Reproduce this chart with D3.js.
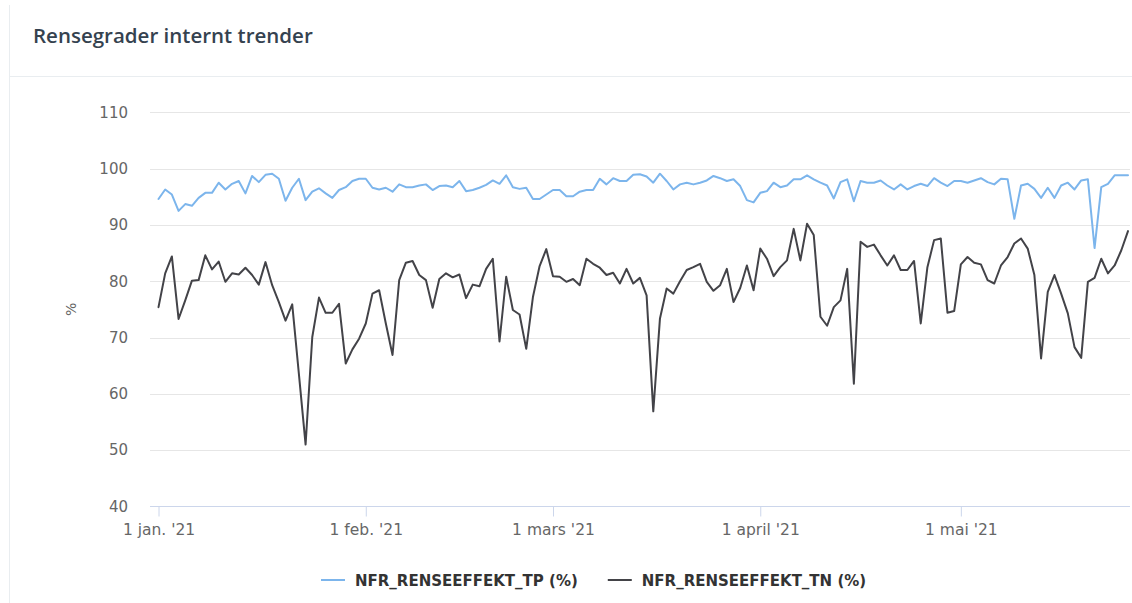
<!DOCTYPE html>
<meta charset="utf-8">
<script src="https://d3js.org/d3.v7.min.js"></script>
<style>
  body { margin: 0; background: #fff; }
  text { font-family: "DejaVu Sans", sans-serif; }
</style>
<div id="chart"></div>
<script>
  // daily values, 1 jan. 2021 - 26 mai 2021
  var startDate = "2021-01-01";

  var tpValues = [
    94.6, 96.3, 95.4, 92.5, 93.7, 93.4, 94.8, 95.7, 95.7, 97.5,
    96.3, 97.3, 97.8, 95.6, 98.7, 97.6, 98.9, 99.1, 98.2, 94.3,
    96.6, 98.2, 94.4, 95.9, 96.5, 95.6, 94.8, 96.2, 96.7, 97.8,
    98.2, 98.2, 96.6, 96.3, 96.6, 95.9, 97.2, 96.7, 96.7, 97.0,
    97.2, 96.2, 96.9, 97.0, 96.7, 97.8, 96.0, 96.2, 96.6, 97.1,
    97.9, 97.3, 98.8, 96.7, 96.4, 96.6, 94.6, 94.6, 95.4, 96.2,
    96.2, 95.1, 95.1, 95.9, 96.2, 96.2, 98.2, 97.2, 98.3, 97.8,
    97.8, 98.9, 99.0, 98.6, 97.5, 99.1, 97.8, 96.3, 97.2, 97.5,
    97.2, 97.5, 97.9, 98.7, 98.3, 97.8, 98.1, 96.9, 94.4, 94.0,
    95.7, 96.0, 97.5, 96.7, 97.0, 98.1, 98.1, 98.8, 98.1, 97.5,
    97.0, 94.7, 97.6, 98.1, 94.2, 97.8, 97.5, 97.5, 97.9, 97.0,
    96.3, 97.2, 96.3, 96.9, 97.3, 96.9, 98.3, 97.5, 96.9, 97.8,
    97.8, 97.5, 97.9, 98.3, 97.6, 97.2, 98.2, 98.1, 91.1, 97.0,
    97.3, 96.4, 94.8, 96.6, 94.8, 97.0, 97.5, 96.3, 97.9, 98.1,
    85.9, 96.7, 97.3, 98.8, 98.8, 98.8
  ];

  var tnValues = [
    75.4, 81.4, 84.4, 73.3, 76.6, 80.1, 80.2, 84.6, 82.1, 83.5,
    79.9, 81.4, 81.2, 82.4, 81.1, 79.4, 83.4, 79.3, 76.3, 73.0,
    75.9, 63.5, 51.0, 70.1, 77.1, 74.4, 74.4, 76.0, 65.4, 67.9,
    69.8, 72.5, 77.8, 78.4, 72.5, 66.9, 80.2, 83.3, 83.6, 81.1,
    80.2, 75.3, 80.4, 81.4, 80.7, 81.2, 77.0, 79.4, 79.1, 82.2,
    84.0, 69.3, 80.8, 74.9, 74.1, 68.0, 77.2, 82.7, 85.7, 80.9,
    80.8, 79.9, 80.4, 79.3, 84.0, 83.1, 82.4, 81.1, 81.5, 79.6,
    82.2, 79.6, 80.6, 77.5, 56.9, 73.4, 78.7, 77.8, 80.0, 82.0,
    82.5, 83.1, 79.9, 78.3, 79.3, 82.2, 76.3, 78.8, 82.8, 78.4,
    85.8, 84.0, 80.9, 82.5, 83.7, 89.3, 83.7, 90.2, 88.2, 73.7,
    72.1, 75.4, 76.6, 82.2, 61.8, 87.0, 86.1, 86.5, 84.6, 82.8,
    84.6, 82.0, 82.0, 83.6, 72.5, 82.5, 87.3, 87.6, 74.4, 74.7,
    83.0, 84.3, 83.3, 83.0, 80.2, 79.6, 82.8, 84.3, 86.7, 87.6,
    85.8, 81.1, 66.3, 78.1, 81.1, 77.8, 74.3, 68.3, 66.4, 79.9,
    80.6, 84.0, 81.4, 82.8, 85.5, 88.9
  ];

  var seriesNames = ["NFR_RENSEEFFEKT_TP (%)", "NFR_RENSEEFFEKT_TN (%)"];
  var seriesColors = ["#7cb5ec", "#434348"];
  var yTicks = [40, 50, 60, 70, 80, 90, 100, 110];
  var monthLabels = ["1 jan. '21", "1 feb. '21", "1 mars '21", "1 april '21", "1 mai '21"];

  var W = 1132, H = 603;
  var plot = {left: 150, right: 1130, top: 112.3, bottom: 506.5};

  var svg = d3.select("#chart").append("svg")
    .attr("width", W)
    .attr("height", H);

  // card frame + title
  svg.append("line")
    .attr("x1", 9.5).attr("x2", 9.5).attr("y1", 5).attr("y2", H)
    .attr("stroke", "#e9edf0");
  svg.append("line")
    .attr("x1", 9).attr("x2", W).attr("y1", 76.5).attr("y2", 76.5)
    .attr("stroke", "#e9edf0");
  svg.append("text")
    .attr("x", 33).attr("y", 43)
    .attr("fill", "#35424f")
    .style("font-family", "'Open Sans', sans-serif")
    .style("font-size", "20.5px")
    .style("font-weight", "600")
    .text("Rensegrader internt trender");

  var day0 = new Date(startDate + "T00:00:00Z");
  var dates = tpValues.map(function(d, i) { return d3.utcDay.offset(day0, i); });

  var x = d3.scaleUtc()
    .domain([dates[0], dates[dates.length - 1]])
    .range([158.5, 1128]);

  var y = d3.scaleLinear()
    .domain([40, 110])
    .range([plot.bottom, plot.top]);

  // grid
  svg.append("g").selectAll("line")
    .data(yTicks.slice(1))
    .enter().append("line")
      .attr("x1", plot.left).attr("x2", plot.right)
      .attr("y1", function(d) { return Math.round(y(d)) + 0.5; })
      .attr("y2", function(d) { return Math.round(y(d)) + 0.5; })
      .attr("stroke", "#e6e6e6");

  // y axis labels
  var yAxis = svg.append("g")
    .attr("transform", "translate(" + plot.left + ",0)")
    .call(d3.axisLeft(y).tickValues(yTicks).tickSize(0).tickPadding(22));
  yAxis.select(".domain").remove();
  yAxis.selectAll("text")
    .attr("fill", "#666")
    .style("font-size", "15px")
    .style("font-family", "'DejaVu Sans', sans-serif");

  svg.append("text")
    .attr("transform", "translate(76," + ((plot.top + plot.bottom) / 2) + ") rotate(-90)")
    .attr("text-anchor", "middle")
    .attr("fill", "#666")
    .style("font-size", "14px")
    .text("%");

  // x axis
  var monthTicks = d3.utcMonth.range(day0, d3.utcDay.offset(dates[dates.length - 1], 1));
  var xAxis = svg.append("g")
    .attr("transform", "translate(0," + plot.bottom + ")")
    .call(d3.axisBottom(x)
      .tickValues(monthTicks)
      .tickSize(10)
      .tickPadding(7)
      .tickFormat(function(d, i) { return monthLabels[i]; }));
  xAxis.select(".domain").remove();
  xAxis.selectAll("line").attr("stroke", "#ccd6eb");
  xAxis.selectAll("text")
    .attr("fill", "#666")
    .style("font-size", "15.5px")
    .style("font-family", "'DejaVu Sans', sans-serif");
  svg.append("line")
    .attr("x1", plot.left).attr("x2", plot.right)
    .attr("y1", plot.bottom).attr("y2", plot.bottom)
    .attr("stroke", "#ccd6eb");

  // lines
  var line = d3.line()
    .x(function(d, i) { return x(dates[i]); })
    .y(function(d) { return y(d); });

  [tpValues, tnValues].forEach(function(vals, k) {
    svg.append("path")
      .datum(vals)
      .attr("fill", "none")
      .attr("stroke", seriesColors[k])
      .attr("stroke-width", 2)
      .attr("stroke-linejoin", "round")
      .attr("stroke-linecap", "round")
      .attr("d", line);
  });

  // legend
  var legend = svg.append("g").attr("transform", "translate(321,580)");
  var lx = 0;
  seriesNames.forEach(function(name, k) {
    var item = legend.append("g").attr("transform", "translate(" + lx + ",0)");
    item.append("line")
      .attr("x1", 0).attr("x2", 24).attr("y1", 0).attr("y2", 0)
      .attr("stroke", seriesColors[k])
      .attr("stroke-width", 2);
    var t = item.append("text")
      .attr("x", 34).attr("y", 5.5)
      .attr("fill", "#333")
      .style("font-size", "15px")
      .style("font-weight", "bold")
      .text(name);
    lx += 34 + t.node().getComputedTextLength() + 30;
  });
</script>
